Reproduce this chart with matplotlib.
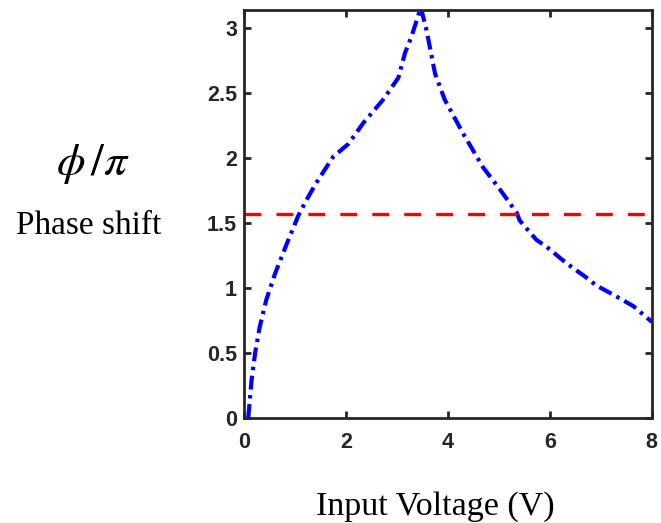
import numpy as np
import matplotlib
matplotlib.use("Agg")
import matplotlib.pyplot as plt

# Phase shift (in units of pi) versus input voltage
voltage = [0.085, 0.15, 0.22, 0.31, 0.44, 0.61, 0.84, 1.07, 1.23, 1.42, 1.75, 2.05,
           2.34, 2.73, 3.03, 3.16, 3.29, 3.47, 3.58, 3.75, 3.94, 4.30, 4.69, 5.02,
           5.35, 5.41, 5.74, 5.93, 6.33, 6.72, 6.91, 7.24, 7.64, 8.0]
phase = [0.0, 0.29, 0.50, 0.70, 0.91, 1.11, 1.34, 1.56, 1.68, 1.81, 2.01, 2.11,
         2.27, 2.45, 2.62, 2.81, 2.94, 3.16, 2.99, 2.65, 2.45, 2.19, 1.93, 1.76,
         1.58, 1.52, 1.37, 1.32, 1.19, 1.08, 1.02, 0.95, 0.86, 0.74]
reference_level = [np.pi / 2]

x_ticks = [0, 2, 4, 6, 8]
y_ticks = [0, 0.5, 1, 1.5, 2, 2.5, 3]
y_tick_labels = ["0", "0.5", "1", "1.5", "2", "2.5", "3"]

plt.rcParams["lines.scale_dashes"] = False
plt.rcParams["mathtext.fontset"] = "stix"

fig = plt.figure(figsize=(6.61, 5.23), dpi=100)
ax = fig.add_axes([0.369, 0.201, 0.617, 0.780])

ax.plot(voltage, phase, color="#0000ff", lw=3.0, dashes=(10, 4, 2.5, 4),
        dash_capstyle="butt", solid_joinstyle="round")
ax.axhline(reference_level[0], color="#ff0000", lw=2.4, dashes=(12.2, 10.8))

ax.set_xlim(0, 8)
ax.set_ylim(0, np.pi)
ax.set_xticks(x_ticks)
ax.set_yticks(y_ticks)
ax.set_yticklabels(y_tick_labels)

frame_color = "#262626"
for side in ax.spines.values():
    side.set_linewidth(2.0)
    side.set_color(frame_color)
ax.tick_params(direction="in", length=5, width=2.0, color=frame_color,
               top=True, right=True, labelsize=15.5, labelcolor=frame_color)
ax.tick_params(axis="y", pad=5)
ax.tick_params(axis="x", pad=10)
for lab in ax.get_xticklabels() + ax.get_yticklabels():
    lab.set_fontfamily("Liberation Sans")
    lab.set_fontweight("bold")

fig.text(0.659, 0.0153, "Input Voltage (V)", ha="center", va="baseline",
         fontfamily="Liberation Serif", fontsize=24.5)
fig.text(0.1346, 0.5535, "Phase shift", ha="center", va="baseline",
         fontfamily="Liberation Serif", fontsize=24)
fig.text(0.1407, 0.665, r"$\phi\,/\pi$", ha="center", va="baseline", fontsize=33)

fig.savefig("out.png", dpi=100)
